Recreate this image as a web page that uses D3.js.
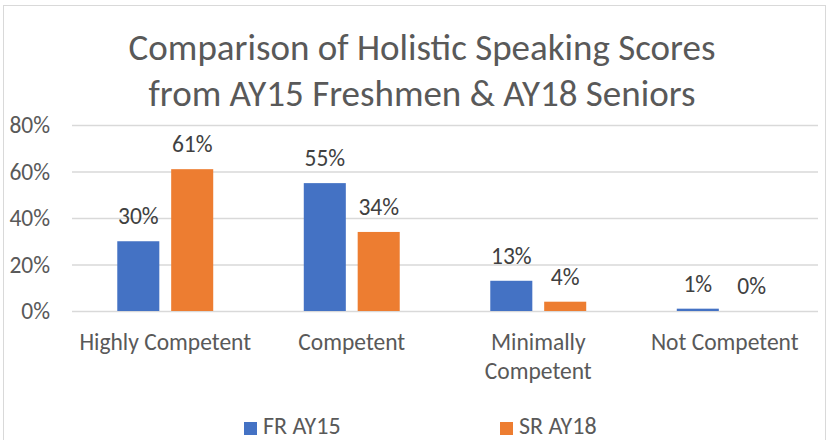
<!DOCTYPE html>
<html lang="en">
<head>
  <meta charset="UTF-8">
  <title>Comparison of Holistic Speaking Scores</title>
  <script src="https://cdn.jsdelivr.net/npm/d3@7/dist/d3.min.js"></script>
  <style>
    body { margin: 0; background: #fff; }
    svg text { font-family: Calibri, Carlito, "Open Sans", sans-serif; }
  </style>
</head>
<body>
  <div id="chart"></div>

  <script>
    // Data
    var categories = ["Highly Competent", "Competent", "Minimally Competent", "Not Competent"];
    var seriesNames = ["FR AY15", "SR AY18"];
    var frValues = [30, 55, 13, 1];
    var srValues = [61, 34, 4, 0];
    var yTicks = [0, 20, 40, 60, 80];
    var titleLines = ["Comparison of Holistic Speaking Scores", "from AY15 Freshmen & AY18 Seniors"];

    var colors = ["#4472C4", "#ED7D31"];
    var W = 830, H = 440;
    var plot = { left: 72, right: 818, top: 125, bottom: 311 };
    var labelSize = "23.5px";

    var svg = d3.select("#chart")
      .append("svg")
      .attr("width", W)
      .attr("height", H);

    // chart border
    svg.append("rect")
      .attr("x", 3.5).attr("y", 5.5)
      .attr("width", 822).attr("height", 445)
      .attr("fill", "#fff")
      .attr("stroke", "#D9D9D9");

    // Title
    svg.append("text")
      .attr("text-anchor", "middle")
      .attr("fill", "#595959")
      .style("font-size", "37px")
      .selectAll("tspan")
      .data(titleLines)
      .enter()
      .append("tspan")
      .attr("x", 422)
      .attr("y", (d, i) => 60 + i * 46)
      .text(d => d);

    // Scales
    var y = d3.scaleLinear().domain([0, 80]).range([plot.bottom, plot.top]);
    var x0 = d3.scaleBand().domain(categories).range([plot.left, plot.right]).padding(0);
    var x1 = d3.scaleBand().domain(seriesNames).range([0, x0.bandwidth()])
      .paddingInner(0.22).paddingOuter(0.84);

    // Y axis with gridlines
    var yAxis = svg.append("g")
      .attr("transform", "translate(" + plot.left + ",0)")
      .call(d3.axisLeft(y).tickValues(yTicks).tickFormat(d => d + "%")
        .tickSize(-(plot.right - plot.left)).tickPadding(22));
    yAxis.select(".domain").remove();
    yAxis.selectAll("line").attr("stroke", "#D9D9D9").attr("stroke-width", 1.5);
    yAxis.selectAll("text")
      .attr("fill", "#595959")
      .style("font-size", labelSize);

    // X axis labels
    var xAxis = svg.append("g")
      .attr("transform", "translate(0," + plot.bottom + ")")
      .call(d3.axisBottom(x0).tickSize(0).tickPadding(0));
    xAxis.select(".domain").remove();
    xAxis.selectAll("text")
      .attr("fill", "#595959")
      .style("font-size", labelSize)
      .attr("dy", null)
      .attr("y", 0)
      .each(function (d) {
        var t = d3.select(this);
        var words = d === "Minimally Competent" ? ["Minimally", "Competent"] : [d];
        t.text(null);
        words.forEach(function (w, i) {
          t.append("tspan").attr("x", 0).attr("y", 39 + i * 29).text(w);
        });
      });

    // Bars
    var series = [frValues, srValues];
    var groups = svg.append("g")
      .selectAll("g")
      .data(categories)
      .enter()
      .append("g")
      .attr("transform", d => "translate(" + x0(d) + ",0)");

    groups.selectAll("rect")
      .data((d, ci) => seriesNames.map((s, si) => ({ s: s, si: si, v: series[si][ci] })))
      .enter()
      .append("rect")
      .attr("x", d => x1(d.s))
      .attr("width", x1.bandwidth())
      .attr("y", d => y(d.v))
      .attr("height", d => y(0) - y(d.v))
      .attr("fill", d => colors[d.si]);

    groups.selectAll("text.val")
      .data((d, ci) => seriesNames.map((s, si) => ({ s: s, si: si, v: series[si][ci] })))
      .enter()
      .append("text")
      .attr("class", "val")
      .attr("x", d => x1(d.s) + x1.bandwidth() / 2)
      .attr("y", d => y(d.v) - 17)
      .attr("text-anchor", "middle")
      .attr("fill", "#404040")
      .style("font-size", labelSize)
      .text(d => d.v + "%");

    // Legend
    var legend = svg.append("g")
      .selectAll("g")
      .data(seriesNames)
      .enter()
      .append("g")
      .attr("transform", (d, i) => "translate(" + (244 + i * 256) + ",422)");
    legend.append("rect")
      .attr("width", 13).attr("height", 13)
      .attr("fill", (d, i) => colors[i]);
    legend.append("text")
      .attr("x", 19).attr("y", 12)
      .attr("fill", "#595959")
      .style("font-size", "24px")
      .text(d => d);
  </script>
</body>
</html>
